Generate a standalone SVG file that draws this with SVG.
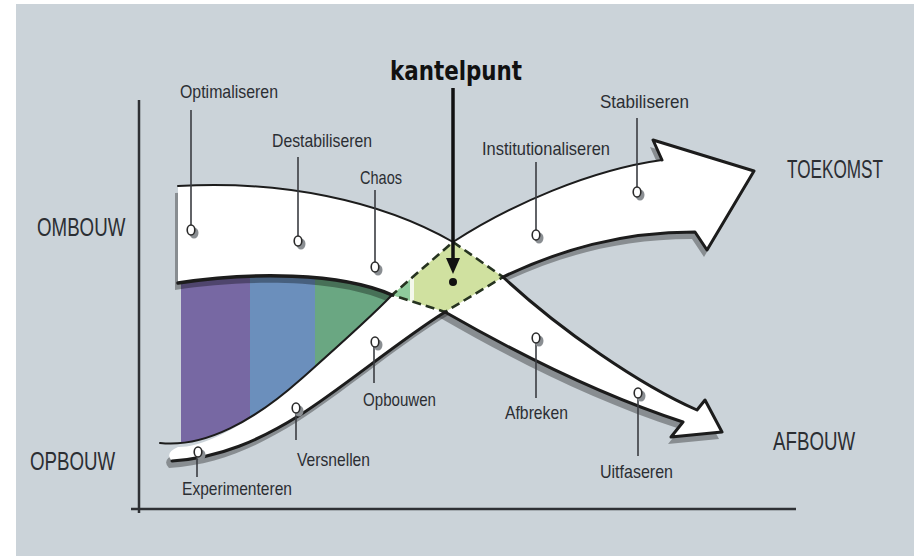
<svg xmlns="http://www.w3.org/2000/svg" width="914" height="556" viewBox="0 0 914 556">
<defs>
<style>
.lbl{font-family:"Liberation Sans",Arial,sans-serif;font-size:19px;fill:#2b2e33;}
.big{font-family:"Liberation Sans",Arial,sans-serif;font-size:26px;fill:#2b2e33;}
.edge{fill:none;stroke:#1c1c1c;stroke-linejoin:round;stroke-linecap:round;}
.pin{stroke:#3a3d42;stroke-width:1.6;fill:none;}
.dot{fill:#fff;stroke:#2a2a2a;stroke-width:1.6;}
.dsh{fill:#8a8e92;}
</style>
<clipPath id="colclip">
<path d="M178,283 C 250,272 340,272 392,295 C 370,318 345,340 300,380 C 255,420 205,448 160,443 Z"/>
</clipPath>
</defs>
<rect x="0" y="0" width="914" height="556" fill="#ffffff"/>
<rect x="16" y="4" width="898" height="552" fill="#cbd3d9"/>

<g id="axes" stroke="#2e3034" stroke-width="2.5" fill="none">
<line x1="139" y1="100" x2="139" y2="513"/>
<line x1="131" y1="509" x2="796" y2="509"/>
</g>

<g id="phases" clip-path="url(#colclip)">
<rect x="181" y="265" width="70" height="190" fill="#7768a3"/>
<rect x="250" y="265" width="66" height="190" fill="#6b8fbc"/>
<rect x="315" y="265" width="85" height="190" fill="#6aa782"/>
</g>

<g id="shadows" fill="#000" fill-opacity="0.33" transform="translate(-3,7)">
<path d="M178,186 C 280,180 380,200 453,242 L 503,277 C 560,330 640,385 697,410 L 705,400 L 722,432 L 671,437 L 683,422 C 600,395 520,355 445,312 L 392,295 C 340,272 250,272 178,283 Z"/>
<path d="M172,461 C 220,458 260,440 300,415 C 340,390 400,340 445,312 L 503,277 C 560,250 620,232 695,232 L 707,250 L 754,171 L 653,140 L 662,160 C 590,170 510,205 453,242 L 392,295 C 370,318 345,340 300,380 C 255,420 205,448 178,447 Q 164,453 172,461 Z"/>
</g>

<g id="band-ombouw-afbouw">
<path fill="#ffffff" d="M178,186 C 280,180 380,200 453,242 L 503,277 C 560,330 640,385 697,410 L 705,400 L 722,432 L 671,437 L 683,422 C 600,395 520,355 445,312 L 392,295 C 340,272 250,272 178,283 Z"/>
</g>
<g id="band-opbouw-toekomst">
<path fill="#ffffff" d="M172,461 C 220,458 260,440 300,415 C 340,390 400,340 445,312 L 503,277 C 560,250 620,232 695,232 L 707,250 L 754,171 L 653,140 L 662,160 C 590,170 510,205 453,242 L 392,295 C 370,318 345,340 300,380 C 255,420 205,448 178,447 Q 164,453 172,461 Z"/>
</g>

<g id="kantelzone">
<polygon points="453,242 503,277 445,312 392,295" fill="#d0e1a0"/>
<polygon points="392,295 410,279.4 410,300.8" fill="#8fcb9c"/>
<polygon points="410,279.4 414,276 414,302 410,300.8" fill="#f4f8ec"/>
<polygon points="453,242 503,277 445,312 392,295" fill="none" stroke="#263320" stroke-width="2.6" stroke-dasharray="9,5"/>
</g>

<g id="connectors">
<path class="edge" stroke-width="2" d="M178,186 C 280,180 380,200 453,242"/>
<path class="edge" stroke-width="3" d="M503,277 C 560,330 640,385 697,410 L 705,400 L 722,432 L 671,437 L 683,422 C 600,395 520,355 445,312"/>
<path class="edge" stroke-width="3.5" d="M178,283 C 250,272 340,272 392,295"/>
<path class="edge" stroke-width="3" d="M172,461 C 220,458 260,440 300,415 C 340,390 400,340 445,312"/>
<path class="edge" stroke-width="2" d="M453,242 C 510,205 590,170 662,160"/>
<path class="edge" stroke-width="3" d="M662,160 L 653,140 L 754,171 L 707,250 L 695,232 C 620,232 560,250 503,277"/>
<path class="edge" stroke-width="2" d="M160,443 C 205,448 255,420 300,380 C 345,340 370,318 392,295"/>
<line x1="453" y1="88" x2="453" y2="262" stroke="#111" stroke-width="3.5"/>
<polygon points="446,258 460,258 453,274" fill="#111"/>
<circle cx="453" cy="282" r="4" fill="#111"/>
</g>

<g id="kantelpunt">
<text x="390" y="80" font-family="DejaVu Sans,sans-serif" font-weight="bold" font-size="26" fill="#111" textLength="132" lengthAdjust="spacingAndGlyphs">kantelpunt</text>
</g>

<g id="labels-axes">
<text class="big" transform="translate(37,236) scale(0.72,1)" x="0" y="0">OMBOUW</text>
<text class="big" transform="translate(30,470) scale(0.72,1)" x="0" y="0">OPBOUW</text>
<text class="big" transform="translate(787,178) scale(0.66,1)" x="0" y="0">TOEKOMST</text>
<text class="big" transform="translate(773,450) scale(0.72,1)" x="0" y="0">AFBOUW</text>
</g>

<g id="node-optimaliseren">
<text class="lbl" x="180" y="98" textLength="98" lengthAdjust="spacingAndGlyphs">Optimaliseren</text>
<line class="pin" x1="191" y1="110" x2="191" y2="225"/>
<ellipse class="dsh" cx="194" cy="233" rx="4.5" ry="5.5"/>
<ellipse class="dot" cx="191" cy="230" rx="3.8" ry="5"/>
</g>
<g id="node-destabiliseren">
<text class="lbl" x="272" y="147" textLength="100" lengthAdjust="spacingAndGlyphs">Destabiliseren</text>
<line class="pin" x1="298" y1="157" x2="298" y2="236"/>
<ellipse class="dsh" cx="301" cy="244" rx="4.5" ry="5.5"/>
<ellipse class="dot" cx="298" cy="241" rx="3.8" ry="5"/>
</g>
<g id="node-chaos">
<text class="lbl" x="360" y="184" textLength="42" lengthAdjust="spacingAndGlyphs">Chaos</text>
<line class="pin" x1="375" y1="190" x2="375" y2="262"/>
<ellipse class="dsh" cx="378" cy="270" rx="4.5" ry="5.5"/>
<ellipse class="dot" cx="375" cy="267" rx="3.8" ry="5"/>
</g>
<g id="node-institutionaliseren">
<text class="lbl" x="482" y="155" textLength="128" lengthAdjust="spacingAndGlyphs">Institutionaliseren</text>
<line class="pin" x1="536" y1="162" x2="536" y2="230"/>
<ellipse class="dsh" cx="539" cy="238" rx="4.5" ry="5.5"/>
<ellipse class="dot" cx="536" cy="235" rx="3.8" ry="5"/>
</g>
<g id="node-stabiliseren">
<text class="lbl" x="600" y="108" textLength="89" lengthAdjust="spacingAndGlyphs">Stabiliseren</text>
<line class="pin" x1="637" y1="118" x2="637" y2="187"/>
<ellipse class="dsh" cx="640" cy="195" rx="4.5" ry="5.5"/>
<ellipse class="dot" cx="637" cy="192" rx="3.8" ry="5"/>
</g>
<g id="node-experimenteren">
<text class="lbl" x="182" y="495" textLength="110" lengthAdjust="spacingAndGlyphs">Experimenteren</text>
<line class="pin" x1="197" y1="457" x2="197" y2="477"/>
<ellipse class="dsh" cx="201" cy="455" rx="4.5" ry="5.5"/>
<ellipse class="dot" cx="198" cy="452" rx="3.8" ry="5"/>
</g>
<g id="node-versnellen">
<text class="lbl" x="297" y="466" textLength="73" lengthAdjust="spacingAndGlyphs">Versnellen</text>
<line class="pin" x1="296" y1="413" x2="296" y2="440"/>
<ellipse class="dsh" cx="299" cy="411" rx="4.5" ry="5.5"/>
<ellipse class="dot" cx="296" cy="408" rx="3.8" ry="5"/>
</g>
<g id="node-opbouwen">
<text class="lbl" x="363" y="406" textLength="73" lengthAdjust="spacingAndGlyphs">Opbouwen</text>
<line class="pin" x1="374" y1="347" x2="374" y2="383"/>
<ellipse class="dsh" cx="378" cy="345" rx="4.5" ry="5.5"/>
<ellipse class="dot" cx="375" cy="342" rx="3.8" ry="5"/>
</g>
<g id="node-afbreken">
<text class="lbl" x="505" y="419" textLength="63" lengthAdjust="spacingAndGlyphs">Afbreken</text>
<line class="pin" x1="536" y1="343" x2="536" y2="398"/>
<ellipse class="dsh" cx="539" cy="341" rx="4.5" ry="5.5"/>
<ellipse class="dot" cx="536" cy="338" rx="3.8" ry="5"/>
</g>
<g id="node-uitfaseren">
<text class="lbl" x="600" y="478" textLength="73" lengthAdjust="spacingAndGlyphs">Uitfaseren</text>
<line class="pin" x1="638" y1="398" x2="638" y2="456"/>
<ellipse class="dsh" cx="641" cy="396" rx="4.5" ry="5.5"/>
<ellipse class="dot" cx="638" cy="393" rx="3.8" ry="5"/>
</g>
</svg>
